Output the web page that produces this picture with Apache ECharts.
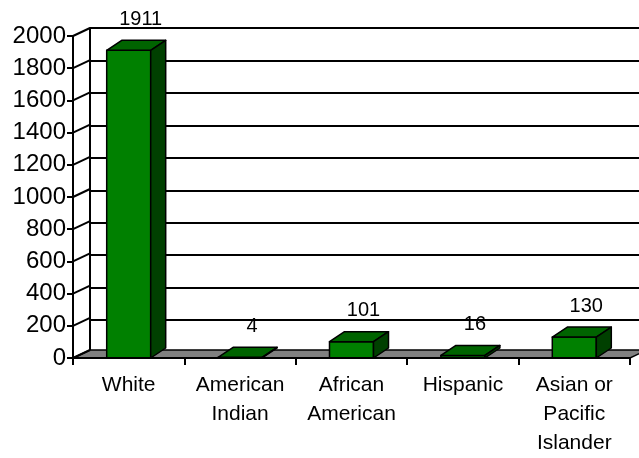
<!DOCTYPE html>
<html><head><meta charset="utf-8">
<script src="https://cdn.jsdelivr.net/npm/echarts@6/dist/echarts.min.js"></script>
<style>html,body{margin:0;padding:0;background:#fff}#c{width:639px;height:458px}</style>
</head><body><div id="c"></div>
<script>
const categories = ['White', 'American\nIndian', 'African\nAmerican', 'Hispanic', 'Asian or\nPacific\nIslander'];
const values = [1911, 4, 101, 16, 130];
const yTickValues = [0, 200, 400, 600, 800, 1000, 1200, 1400, 1600, 1800, 2000];

const WALL_DX = 17, WALL_DY = -8;
const BAR_DX = 15, BAR_DY = -10;
const FONT = 'Liberation Sans, Arial, sans-serif';

const chart = echarts.init(document.getElementById('c'), null, {renderer: 'canvas'});

function bandWidth(api) { return api.size([1, 0])[0]; }

const option = {
  animation: false,
  backgroundColor: '#fff',
  grid: [
    {left: 73, right: 9, top: 36, bottom: 97.5},
    {left: 73 + WALL_DX, right: 9 - WALL_DX, top: 36 + WALL_DY, bottom: 97.5 - WALL_DY}
  ],
  xAxis: [
    {type: 'category', gridIndex: 0, data: categories, boundaryGap: true, z: 10,
     axisLine: {show: true, lineStyle: {color: '#000', width: 2}},
     axisTick: {show: true, interval: 0, length: 7, lineStyle: {color: '#000', width: 2}},
     axisLabel: {interval: 0, color: '#000', fontFamily: FONT, fontSize: 21, lineHeight: 29, margin: 13}},
    {type: 'category', gridIndex: 1, data: categories, show: false}
  ],
  yAxis: [
    {type: 'value', gridIndex: 0, min: 0, max: 2000, interval: 200, z: 10,
     axisLine: {show: true, lineStyle: {color: '#000', width: 2}},
     axisTick: {show: true, length: 6, lineStyle: {color: '#000', width: 2}},
     axisLabel: {color: '#000', fontFamily: FONT, fontSize: 24, margin: 7, formatter: function (v) { return String(v); }},
     splitLine: {show: false}},
    {type: 'value', gridIndex: 1, min: 0, max: 2000, interval: 200,
     axisLine: {show: true, lineStyle: {color: '#000', width: 2}},
     axisTick: {show: false}, axisLabel: {show: false},
     splitLine: {show: true, lineStyle: {color: '#000', width: 2}}}
  ],
  series: [
    {
      type: 'custom', xAxisIndex: 0, yAxisIndex: 0, z: 1, silent: true,
      data: [[0, 0]],
      renderItem: function (params, api) {
        const bw = bandWidth(api);
        const l = api.coord([0, 0]), r = api.coord([categories.length - 1, 0]);
        const x0 = l[0] - bw / 2, x1 = r[0] + bw / 2, y = l[1];
        return {type: 'polygon', shape: {points: [[x0, y], [x1, y], [x1 + WALL_DX, y + WALL_DY], [x0 + WALL_DX, y + WALL_DY]]},
          style: {fill: '#808080', stroke: '#000', lineWidth: 1.5}};
      }
    },
    {
      type: 'custom', xAxisIndex: 0, yAxisIndex: 0, z: 2, silent: true,
      data: yTickValues.map(v => [0, v]),
      renderItem: function (params, api) {
        const bw = bandWidth(api);
        const p = api.coord([0, api.value(1)]);
        const x = p[0] - bw / 2, y = p[1];
        return {type: 'line', shape: {x1: x, y1: y, x2: x + WALL_DX, y2: y + WALL_DY},
          style: {stroke: '#000', lineWidth: 2}};
      }
    },
    {
      type: 'custom', xAxisIndex: 0, yAxisIndex: 0, z: 3, silent: true,
      data: values.map((v, i) => [i, v]),
      renderItem: function (params, api) {
        const i = api.value(0), v = api.value(1);
        const t = api.coord([i, v]), b = api.coord([i, 0]);
        const w = bandWidth(api) * 0.395;
        const x0 = t[0] - w / 2, x1 = t[0] + w / 2, yT = t[1], yB = b[1];
        const st = {stroke: '#000', lineWidth: 1.5, lineJoin: 'round'};
        return {type: 'group', children: [
          {type: 'polygon', shape: {points: [[x0, yT], [x1, yT], [x1, yB], [x0, yB]]}, style: Object.assign({fill: '#008000'}, st)},
          {type: 'polygon', shape: {points: [[x0, yT], [x1, yT], [x1 + BAR_DX, yT + BAR_DY], [x0 + BAR_DX, yT + BAR_DY]]}, style: Object.assign({fill: '#006400'}, st)},
          {type: 'polygon', shape: {points: [[x1, yT], [x1, yB], [x1 + BAR_DX, yB + BAR_DY], [x1 + BAR_DX, yT + BAR_DY]]}, style: Object.assign({fill: '#004000'}, st)},
          {type: 'text', style: {text: String(v), x: t[0] + 12, y: yT + BAR_DY - 21, align: 'center', verticalAlign: 'middle',
            fill: '#000', fontSize: 20, fontFamily: FONT}}
        ]};
      }
    }
  ]
};
chart.setOption(option);
</script></body></html>
